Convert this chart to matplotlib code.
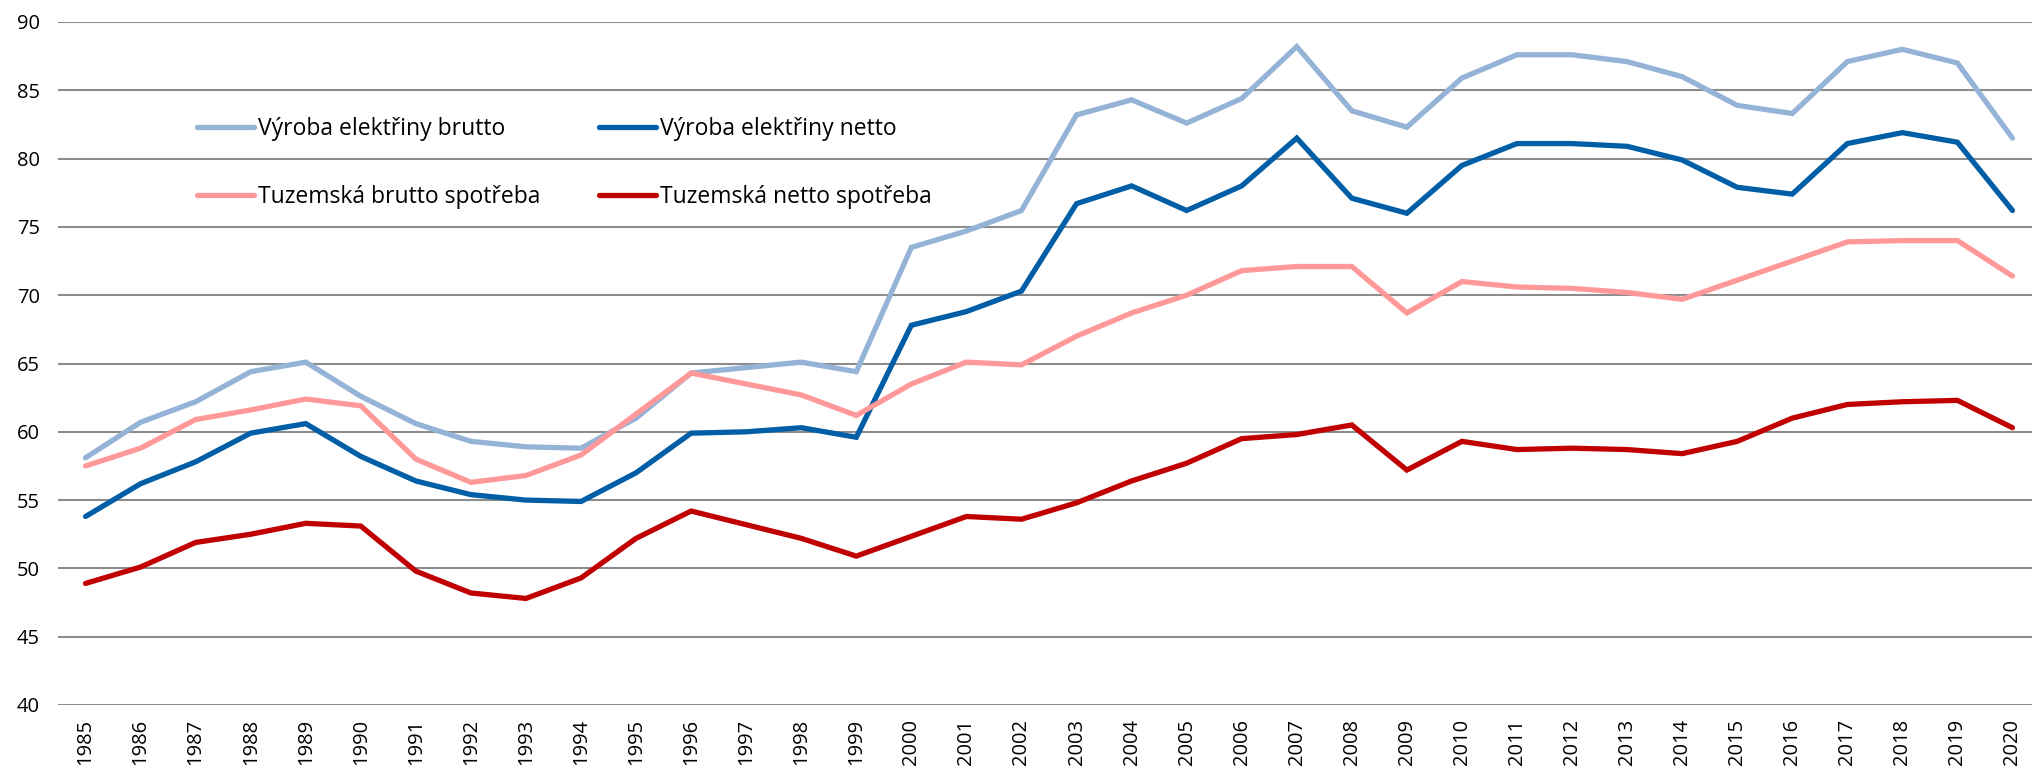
import numpy as np
import matplotlib
matplotlib.use("Agg")
import matplotlib.pyplot as plt

years = list(range(1985, 2021))

vyroba_brutto = [58.1, 60.7, 62.2, 64.4, 65.1, 62.6, 60.6, 59.3, 58.9, 58.8, 61.0, 64.3,
                 64.7, 65.1, 64.4, 73.5, 74.7, 76.2, 83.2, 84.3, 82.6, 84.4, 88.2,
                 83.5, 82.3, 85.9, 87.6, 87.6, 87.1, 86.0, 83.9, 83.3, 87.1, 88.0, 87.0, 81.5]
vyroba_netto = [53.8, 56.2, 57.8, 59.9, 60.6, 58.2, 56.4, 55.4, 55.0, 54.9, 57.0, 59.9,
                60.0, 60.3, 59.6, 67.8, 68.8, 70.3, 76.7, 78.0, 76.2, 78.0, 81.5,
                77.1, 76.0, 79.5, 81.1, 81.1, 80.9, 79.9, 77.9, 77.4, 81.1, 81.9, 81.2, 76.2]
spotreba_brutto = [57.5, 58.8, 60.9, 61.6, 62.4, 61.9, 58.0, 56.3, 56.8, 58.3, 61.3, 64.3,
                   63.5, 62.7, 61.2, 63.5, 65.1, 64.9, 67.0, 68.7, 70.0, 71.8, 72.1,
                   72.1, 68.7, 71.0, 70.6, 70.5, 70.2, 69.7, 71.1, 72.5, 73.9, 74.0, 74.0, 71.4]
spotreba_netto = [48.9, 50.1, 51.9, 52.5, 53.3, 53.1, 49.8, 48.2, 47.8, 49.3, 52.2, 54.2,
                  53.2, 52.2, 50.9, 52.35, 53.8, 53.6, 54.8, 56.4, 57.7, 59.5, 59.8,
                  60.5, 57.2, 59.3, 58.7, 58.8, 58.7, 58.4, 59.3, 61.0, 62.0, 62.2, 62.3, 60.3]

series = [
    ("Výroba elektřiny brutto", vyroba_brutto, "#95b3d7"),
    ("Výroba elektřiny netto", vyroba_netto, "#005ea6"),
    ("Tuzemská brutto spotřeba", spotreba_brutto, "#ff9999"),
    ("Tuzemská netto spotřeba", spotreba_netto, "#c00000"),
]

plt.rcParams["font.family"] = ["Open Sans", "DejaVu Sans"]

fig = plt.figure(figsize=(20.32, 7.70), dpi=100)
ax = fig.add_axes([58 / 2032, 65 / 770, 1982 / 2032, 683 / 770])

x = np.arange(len(years))
for label, vals, color in series:
    ax.plot(x, vals, color=color, lw=3.8, label=label, solid_capstyle="round",
            solid_joinstyle="miter")

ax.set_xlim(-0.5, len(years) - 0.5)
ax.set_ylim(40, 90)
ax.set_yticks(range(40, 91, 5))
ax.set_xticks(x)
ax.set_xticklabels([str(y) for y in years], rotation=90)
ax.tick_params(axis="y", length=0, pad=13, labelsize=14.5, colors="black")
ax.tick_params(axis="x", length=0, pad=10, labelsize=14.5, colors="black")
ax.grid(axis="y", color="#8c8c8c", lw=1.5)
ax.set_axisbelow(True)
for s in ax.spines.values():
    s.set_visible(False)

# legend: 2 columns, no frame
handles, labels = ax.get_legend_handles_labels()
order = [0, 2, 1, 3]
leg = ax.legend([handles[i] for i in order], [labels[i] for i in order],
                ncol=2, frameon=False, fontsize=16.5,
                loc="upper left", bbox_to_anchor=(186 / 2032, 1 - 106 / 770),
                bbox_transform=fig.transFigure,
                handlelength=2.45, handletextpad=0.17, columnspacing=2.6,
                labelspacing=1.92, borderpad=0)

fig.savefig("out.png", dpi=100)
